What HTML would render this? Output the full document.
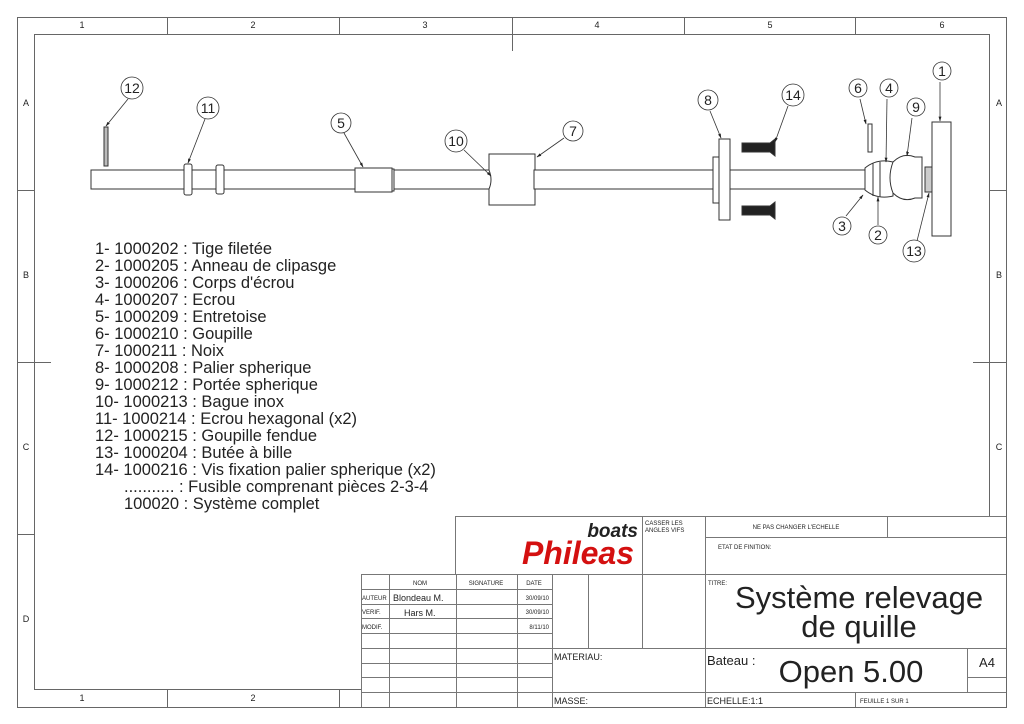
<!DOCTYPE html>
<html><head><meta charset="utf-8"><style>
html,body{margin:0;padding:0;background:#fff;}
svg{display:block;}
text{font-family:"Liberation Sans",sans-serif;fill:#222;}
</style></head><body>
<svg width="1024" height="724" viewBox="0 0 1024 724" xmlns="http://www.w3.org/2000/svg">
<defs><marker id="a" viewBox="0 0 10 10" refX="9" refY="5" markerWidth="6" markerHeight="6" orient="auto"><path d="M0,2 L10,5 L0,8z" fill="#222"/></marker></defs>
<g fill="none" stroke="#666" stroke-width="1">
<rect x="17.5" y="17.5" width="989" height="690"/>
<path d="M361 689.5H34.5V34.5H989.5V516"/>
<path d="M167.5 17v17M339.5 17v17M512.5 17v34M684.5 17v17M855.5 17v17"/>
<path d="M17 190.5h17M17 362.5h34M17 534.5h17M990 190.5h17M973 362.5h34"/>
<path d="M167.5 690v17M339.5 690v17"/>
</g>
<g font-size="9" fill="#666" text-anchor="middle">
<text x="82" y="28">1</text><text x="253" y="28">2</text><text x="425" y="28">3</text><text x="597" y="28">4</text><text x="770" y="28">5</text><text x="942" y="28">6</text>
<text x="26" y="106">A</text><text x="26" y="278">B</text><text x="26" y="450">C</text><text x="26" y="622">D</text>
<text x="999" y="106">A</text><text x="999" y="278">B</text><text x="999" y="450">C</text>
<text x="82" y="701">1</text><text x="253" y="701">2</text>
</g>

<g stroke="#333" stroke-width="1" fill="#fff">
<rect x="91" y="170" width="774" height="19"/>
<rect x="104" y="127" width="4" height="39" fill="#bbb"/>
<rect x="184" y="164" width="8" height="31" rx="2"/>
<rect x="216" y="165" width="8" height="29" rx="2"/>
<rect x="355" y="168" width="37" height="24"/>
<rect x="392" y="169" width="2" height="22"/>
<path d="M489 154h46v16h-1v19h1v16h-46v-16q4-9 0-19z"/>
<rect x="713" y="157" width="7" height="46"/>
<rect x="719" y="139" width="11" height="81"/>
<path d="M742 143h28l5-4v17l-5-4h-28z" fill="#222"/>
<path d="M742 206h28l5-4v17l-5-4h-28z" fill="#222"/>
<rect x="868" y="124" width="4" height="28"/>
<path d="M865 168q12-10 28-6v34q-16 4-28-6z"/>
<path d="M873 163v33M880 162v35" />
<path d="M893 162q10-10 22-5h7v41h-7q-12 5-22-5q-6-15 0-31z"/>
<rect x="925" y="167" width="7" height="25" fill="#ccc"/>
<rect x="932" y="122" width="19" height="114"/>
</g>
<g stroke="#333" stroke-width="0.8" fill="none">
<path d="M128 99L106 126" marker-end="url(#a)"/>
<path d="M205 119L188 163" marker-end="url(#a)"/>
<path d="M344 133L363 167" marker-end="url(#a)"/>
<path d="M464 150L491 176" marker-end="url(#a)"/>
<path d="M564 138L537 157" marker-end="url(#a)"/>
<path d="M710 111L721 138" marker-end="url(#a)"/>
<path d="M788 106L775 142" marker-end="url(#a)"/>
<path d="M860 99L866 124" marker-end="url(#a)"/>
<path d="M887 99L886 162" marker-end="url(#a)"/>
<path d="M912 118L907 156" marker-end="url(#a)"/>
<path d="M940 82L940 121" marker-end="url(#a)"/>
<path d="M846 216L863 195" marker-end="url(#a)"/>
<path d="M878 225L878 197" marker-end="url(#a)"/>
<path d="M917 241L929 193" marker-end="url(#a)"/>
</g>
<g stroke="#333" stroke-width="0.8" fill="#fff">
<circle cx="132" cy="88" r="11"/><circle cx="208" cy="108" r="11"/><circle cx="341" cy="123" r="10"/>
<circle cx="456" cy="141" r="11"/><circle cx="573" cy="131" r="10"/><circle cx="708" cy="100" r="10"/>
<circle cx="793" cy="95" r="11"/><circle cx="858" cy="88" r="9"/><circle cx="889" cy="88" r="9"/>
<circle cx="916" cy="107" r="9"/><circle cx="942" cy="71" r="9"/><circle cx="842" cy="226" r="9"/>
<circle cx="878" cy="235" r="9"/><circle cx="914" cy="251" r="11"/>
</g>
<g font-size="14" text-anchor="middle">
<text x="132" y="93">12</text><text x="208" y="113">11</text><text x="341" y="128">5</text>
<text x="456" y="146">10</text><text x="573" y="136">7</text><text x="708" y="105">8</text>
<text x="793" y="100">14</text><text x="858" y="93">6</text><text x="889" y="93">4</text>
<text x="916" y="112">9</text><text x="942" y="76">1</text><text x="842" y="231">3</text>
<text x="878" y="240">2</text><text x="914" y="256">13</text>
</g>

<g font-size="16.5">
<text x="95" y="254">1- 1000202 : Tige filetée</text>
<text x="95" y="271">2- 1000205 : Anneau de clipasge</text>
<text x="95" y="288">3- 1000206 : Corps d'écrou</text>
<text x="95" y="305">4- 1000207 : Ecrou</text>
<text x="95" y="322">5- 1000209 : Entretoise</text>
<text x="95" y="339">6- 1000210 : Goupille</text>
<text x="95" y="356">7- 1000211 : Noix</text>
<text x="95" y="373">8- 1000208 : Palier spherique</text>
<text x="95" y="390">9- 1000212 : Portée spherique</text>
<text x="95" y="407">10- 1000213 : Bague inox</text>
<text x="95" y="424">11- 1000214 : Ecrou hexagonal (x2)</text>
<text x="95" y="441">12- 1000215 : Goupille fendue</text>
<text x="95" y="458">13- 1000204 : Butée à bille</text>
<text x="95" y="475">14- 1000216 : Vis fixation palier spherique (x2)</text>
<text x="124" y="492">........... : Fusible comprenant pièces 2-3-4</text>
<text x="124" y="509">100020 : Système complet</text>
</g>

<g fill="none" stroke="#777" stroke-width="1">
<path d="M455.5 516.5H1006M705 537.5H1006M887.5 516v21"/>
<path d="M455.5 516v58M642.5 516v132M705.5 516v191"/>
<path d="M361.5 574.5H705.5M361.5 574v133"/>
<path d="M361 589.5H552M361 604.5H552M361 618.5H552M361 633.5H552M361 648.5H1006M361 663.5H552M361 677.5H552M361 692.5H1006"/>
<path d="M705 574.5H1006"/>
<path d="M389.5 574v133M456.5 574v133M517.5 574v133M552.5 574v133M588.5 574v74"/>
<path d="M967.5 648v44M967 677.5H1006M855.5 692v15"/>
</g>
<text x="638" y="537" font-size="19" font-weight="bold" font-style="italic" text-anchor="end" fill="#111">boats</text>
<text x="634" y="564" font-size="32" font-weight="bold" font-style="italic" text-anchor="end" style="fill:#d41010">Phileas</text>
<g font-size="6" fill="#444">
<text x="645" y="525">CASSER LES</text><text x="645" y="532">ANGLES VIFS</text>
<text x="796" y="529" text-anchor="middle">NE PAS CHANGER L'ECHELLE</text>
<text x="718" y="549">ETAT DE FINITION:</text>
<text x="708" y="585">TITRE:</text>
<text x="420" y="585" text-anchor="middle">NOM</text>
<text x="486" y="585" text-anchor="middle">SIGNATURE</text>
<text x="534" y="585" text-anchor="middle">DATE</text>
<text x="362" y="600">AUTEUR</text><text x="362" y="614">VERIF.</text><text x="362" y="629">MODIF.</text>
<text x="549" y="600" text-anchor="end">30/09/10</text>
<text x="549" y="614" text-anchor="end">30/09/10</text>
<text x="549" y="629" text-anchor="end">8/11/10</text>
<text x="860" y="703">FEUILLE 1 SUR 1</text>
</g>
<g font-size="9" fill="#333">
<text x="393" y="601">Blondeau M.</text>
<text x="404" y="616">Hars M.</text>
<text x="554" y="660">MATERIAU:</text>
<text x="554" y="704">MASSE:</text>
<text x="707" y="704">ECHELLE:1:1</text>
</g>
<text x="707" y="665" font-size="13">Bateau :</text>
<text x="987" y="667" font-size="13" text-anchor="middle">A4</text>
<text x="851" y="682" font-size="31" text-anchor="middle">Open 5.00</text>
<text x="859" y="608" font-size="31" text-anchor="middle">Système relevage</text>
<text x="859" y="637" font-size="31" text-anchor="middle">de quille</text>
</svg>
</body></html>
